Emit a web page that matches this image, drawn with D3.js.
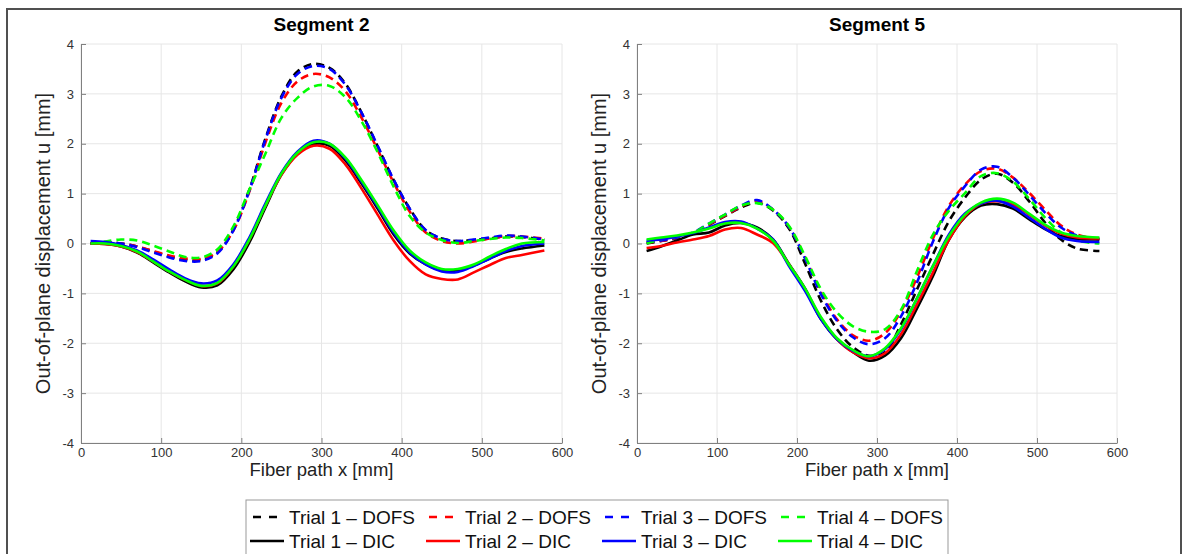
<!DOCTYPE html>
<html>
<head>
<meta charset="utf-8">
<script src="https://cdn.jsdelivr.net/npm/d3@7"></script>
<style>
	body { margin: 0; background: #fff; }
	svg text { font-family: "Liberation Sans", Arial, Helvetica, sans-serif; }
</style>
</head>
<body>
<div id="fig"></div>
<script>
// sample positions along the fiber [mm]
var x_mm = [12, 30, 50, 70, 90, 110, 130, 150, 170, 190, 210, 230, 250, 270, 290, 310, 330, 350, 370, 390, 410, 430, 450, 470, 490, 510, 530, 550, 578];

// Segment 2
var seg2_dofs_t1 = [0.00, 0.02, 0.00, -0.06, -0.16, -0.26, -0.33, -0.33, -0.18, 0.28, 1.08, 2.10, 2.95, 3.45, 3.60, 3.52, 3.20, 2.62, 1.95, 1.27, 0.70, 0.27, 0.10, 0.05, 0.07, 0.10, 0.14, 0.13, 0.08];
var seg2_dofs_t2 = [0.00, 0.02, 0.00, -0.06, -0.15, -0.24, -0.30, -0.31, -0.17, 0.26, 1.04, 2.02, 2.82, 3.25, 3.40, 3.33, 3.05, 2.52, 1.88, 1.22, 0.64, 0.22, 0.05, 0.00, 0.04, 0.10, 0.15, 0.14, 0.10];
var seg2_dofs_t3 = [0.00, 0.02, 0.00, -0.07, -0.18, -0.28, -0.35, -0.35, -0.20, 0.26, 1.06, 2.08, 2.92, 3.40, 3.56, 3.50, 3.18, 2.62, 1.96, 1.28, 0.70, 0.27, 0.10, 0.05, 0.08, 0.12, 0.16, 0.14, 0.08];
var seg2_dofs_t4 = [0.00, 0.04, 0.08, 0.06, -0.04, -0.16, -0.27, -0.28, -0.12, 0.34, 1.08, 1.80, 2.52, 2.92, 3.15, 3.16, 2.93, 2.45, 1.83, 1.14, 0.55, 0.22, 0.07, 0.01, 0.05, 0.09, 0.12, 0.11, 0.06];
var seg2_dic_t1 = [0.00, -0.01, -0.06, -0.18, -0.38, -0.58, -0.76, -0.88, -0.84, -0.52, 0.02, 0.72, 1.38, 1.80, 1.99, 1.96, 1.66, 1.20, 0.70, 0.18, -0.20, -0.42, -0.54, -0.54, -0.44, -0.30, -0.17, -0.10, -0.04];
var seg2_dic_t2 = [0.00, -0.01, -0.06, -0.17, -0.36, -0.56, -0.73, -0.85, -0.80, -0.46, 0.08, 0.76, 1.38, 1.78, 1.96, 1.90, 1.58, 1.10, 0.58, 0.06, -0.35, -0.62, -0.71, -0.72, -0.58, -0.43, -0.29, -0.23, -0.14];
var seg2_dic_t3 = [0.05, 0.03, -0.03, -0.14, -0.32, -0.52, -0.70, -0.80, -0.74, -0.42, 0.12, 0.80, 1.42, 1.84, 2.06, 2.00, 1.70, 1.24, 0.74, 0.22, -0.18, -0.42, -0.56, -0.57, -0.45, -0.30, -0.15, -0.05, 0.00];
var seg2_dic_t4 = [0.00, 0.00, -0.05, -0.16, -0.36, -0.56, -0.73, -0.85, -0.79, -0.46, 0.08, 0.76, 1.40, 1.82, 2.03, 2.00, 1.72, 1.27, 0.77, 0.26, -0.14, -0.38, -0.51, -0.51, -0.42, -0.26, -0.11, 0.00, 0.03];

// Segment 5
var seg5_dofs_t1 = [0.00, 0.05, 0.11, 0.20, 0.37, 0.55, 0.72, 0.82, 0.66, 0.30, -0.40, -1.15, -1.72, -2.08, -2.25, -2.18, -1.62, -0.92, -0.22, 0.45, 0.92, 1.28, 1.40, 1.22, 0.85, 0.42, 0.08, -0.10, -0.15];
var seg5_dofs_t2 = [0.02, 0.05, 0.11, 0.21, 0.38, 0.56, 0.74, 0.85, 0.68, 0.33, -0.28, -0.98, -1.52, -1.84, -1.95, -1.80, -1.36, -0.68, 0.10, 0.76, 1.18, 1.45, 1.50, 1.32, 1.02, 0.68, 0.36, 0.18, 0.08];
var seg5_dofs_t3 = [0.03, 0.06, 0.12, 0.22, 0.40, 0.58, 0.76, 0.87, 0.68, 0.33, -0.30, -1.02, -1.55, -1.88, -2.02, -1.90, -1.46, -0.78, 0.04, 0.72, 1.15, 1.48, 1.54, 1.32, 0.98, 0.62, 0.32, 0.16, 0.09];
var seg5_dofs_t4 = [0.00, 0.08, 0.14, 0.21, 0.40, 0.58, 0.76, 0.81, 0.68, 0.35, -0.25, -0.92, -1.38, -1.66, -1.77, -1.72, -1.33, -0.55, 0.18, 0.66, 1.01, 1.35, 1.41, 1.24, 0.90, 0.52, 0.22, 0.06, 0.00];
var seg5_dic_t1 = [-0.15, -0.06, 0.06, 0.18, 0.22, 0.36, 0.41, 0.32, 0.08, -0.41, -0.90, -1.52, -1.92, -2.18, -2.35, -2.25, -1.90, -1.30, -0.65, 0.08, 0.53, 0.76, 0.79, 0.70, 0.49, 0.29, 0.15, 0.09, 0.08];
var seg5_dic_t2 = [-0.09, -0.05, 0.02, 0.08, 0.15, 0.28, 0.31, 0.18, 0.01, -0.42, -0.92, -1.50, -1.92, -2.18, -2.30, -2.20, -1.82, -1.22, -0.58, 0.08, 0.55, 0.80, 0.85, 0.78, 0.58, 0.36, 0.20, 0.12, 0.10];
var seg5_dic_t3 = [0.06, 0.08, 0.14, 0.21, 0.32, 0.43, 0.44, 0.30, 0.08, -0.45, -0.95, -1.52, -1.92, -2.15, -2.26, -2.12, -1.72, -1.10, -0.45, 0.18, 0.60, 0.80, 0.86, 0.74, 0.52, 0.30, 0.12, 0.05, 0.03];
var seg5_dic_t4 = [0.08, 0.12, 0.16, 0.22, 0.30, 0.40, 0.41, 0.30, 0.06, -0.42, -0.90, -1.48, -1.90, -2.14, -2.26, -2.10, -1.70, -1.10, -0.45, 0.15, 0.58, 0.82, 0.90, 0.82, 0.60, 0.38, 0.22, 0.15, 0.12];

var trial_names = ["Trial 1", "Trial 2", "Trial 3", "Trial 4"];
var trial_colors = ["#000000", "#ff0000", "#0000ff", "#00ff00"];
var x_ticks = [0, 100, 200, 300, 400, 500, 600];
var y_ticks = [-4, -3, -2, -1, 0, 1, 2, 3, 4];

var seg2_dofs = [seg2_dofs_t1, seg2_dofs_t2, seg2_dofs_t3, seg2_dofs_t4];
var seg2_dic = [seg2_dic_t1, seg2_dic_t2, seg2_dic_t3, seg2_dic_t4];
var seg5_dofs = [seg5_dofs_t1, seg5_dofs_t2, seg5_dofs_t3, seg5_dofs_t4];
var seg5_dic = [seg5_dic_t1, seg5_dic_t2, seg5_dic_t3, seg5_dic_t4];

var W = 1183, H = 554;
var dash = "8,5";

var svg = d3.select("#fig")
	.append("svg")
	.attr("width", W)
	.attr("height", H);

svg.append("rect")
	.attr("x", 7).attr("y", 9)
	.attr("width", 1174).attr("height", 570)
	.attr("fill", "#fff")
	.attr("stroke", "#505050")
	.attr("stroke-width", 2);

function seg_panel (svg, left, top, width, height, title) {
	this.w = width;
	this.h = height;
	this.g = svg.append("g")
		.attr("transform", "translate(" + left + ", " + top + ")");
	this.x = d3.scaleLinear().domain([0, 600]).range([0, width]);
	this.y = d3.scaleLinear().domain([-4, 4]).range([height, 0]);
	this.title = title;
}

seg_panel.prototype = {
	draw_axes : function() {
		var self = this;
		// grid
		self.g.append("g").selectAll("line")
			.data(x_ticks)
			.enter().append("line")
			.attr("x1", function(d) { return self.x(d); })
			.attr("x2", function(d) { return self.x(d); })
			.attr("y1", 0).attr("y2", self.h)
			.attr("stroke", "#e6e6e6");
		self.g.append("g").selectAll("line")
			.data(y_ticks)
			.enter().append("line")
			.attr("y1", function(d) { return self.y(d); })
			.attr("y2", function(d) { return self.y(d); })
			.attr("x1", 0).attr("x2", self.w)
			.attr("stroke", "#e6e6e6");

		var plain = function(d) { return String(d); };
		var xa = self.g.append("g")
			.attr("transform", "translate(0," + self.h + ")")
			.call(d3.axisBottom(self.x).tickValues(x_ticks).tickFormat(plain)
				.tickSizeInner(-5).tickSizeOuter(0).tickPadding(5));
		var ya = self.g.append("g")
			.call(d3.axisLeft(self.y).tickValues(y_ticks).tickFormat(plain)
				.tickSizeInner(-5).tickSizeOuter(0).tickPadding(7));
		[xa, ya].forEach(function(a) {
			a.select(".domain").attr("stroke", "#808080");
			a.selectAll(".tick line").attr("stroke", "#808080");
			a.selectAll(".tick text")
				.attr("fill", "#333")
				.style("font-size", "13px");
		});

		self.g.append("text")
			.attr("x", self.w / 2)
			.attr("y", -13)
			.attr("text-anchor", "middle")
			.style("font-size", "19px")
			.style("font-weight", "bold")
			.text(self.title);
		self.g.append("text")
			.attr("x", self.w / 2)
			.attr("y", self.h + 33)
			.attr("text-anchor", "middle")
			.style("font-size", "18.5px")
			.attr("fill", "#222")
			.text("Fiber path x [mm]");
		self.g.append("text")
			.attr("transform", "translate(-31," + (self.h / 2) + ") rotate(-90)")
			.attr("text-anchor", "middle")
			.style("font-size", "20px")
			.attr("fill", "#222")
			.text("Out-of-plane displacement u [mm]");
	},
	draw_lines : function(dofs, dic) {
		var self = this;
		var line = d3.line()
			.x(function(d, i) { return self.x(x_mm[i]); })
			.y(function(d) { return self.y(d); })
			.curve(d3.curveCatmullRom.alpha(0.5));
		self.g.append("g").selectAll("path")
			.data(dofs)
			.enter().append("path")
			.attr("d", line)
			.attr("fill", "none")
			.attr("stroke", function(d, i) { return trial_colors[i]; })
			.attr("stroke-width", 2.6)
			.attr("stroke-dasharray", dash);
		self.g.append("g").selectAll("path")
			.data(dic)
			.enter().append("path")
			.attr("d", line)
			.attr("fill", "none")
			.attr("stroke", function(d, i) { return trial_colors[i]; })
			.attr("stroke-width", 2.6);
	}
};

var p2 = new seg_panel(svg, 81, 44, 481, 399, "Segment 2");
p2.draw_axes();
p2.draw_lines(seg2_dofs, seg2_dic);

var p5 = new seg_panel(svg, 637, 44, 480, 399, "Segment 5");
p5.draw_axes();
p5.draw_lines(seg5_dofs, seg5_dic);

// legend
var lg = svg.append("g").attr("transform", "translate(246, 500)");
lg.append("rect")
	.attr("x", 0).attr("y", 0)
	.attr("width", 702).attr("height", 62)
	.attr("fill", "#fff")
	.attr("stroke", "#999");

var rows = [
	{ suffix: " \u2013 DOFS", dashed: true },
	{ suffix: " \u2013 DIC", dashed: false }
];
rows.forEach(function(r, ri) {
	var row = lg.append("g").attr("transform", "translate(0," + (17 + ri * 24) + ")");
	var item = row.selectAll("g")
		.data(trial_names)
		.enter().append("g")
		.attr("transform", function(d, i) { return "translate(" + (4 + i * 176) + ",0)"; });
	item.append("line")
		.attr("x1", 0).attr("x2", 34)
		.attr("y1", 0).attr("y2", 0)
		.attr("stroke", function(d, i) { return trial_colors[i]; })
		.attr("stroke-width", 2.6)
		.attr("stroke-dasharray", r.dashed ? "8,8" : null)
		.attr("stroke-dashoffset", r.dashed ? -3 : null);
	item.append("text")
		.attr("x", 39)
		.attr("y", 0)
		.attr("dy", "0.35em")
		.style("font-size", "19px")
		.attr("fill", "#111")
		.text(function(d) { return d + r.suffix; });
});
</script>
</body>
</html>
